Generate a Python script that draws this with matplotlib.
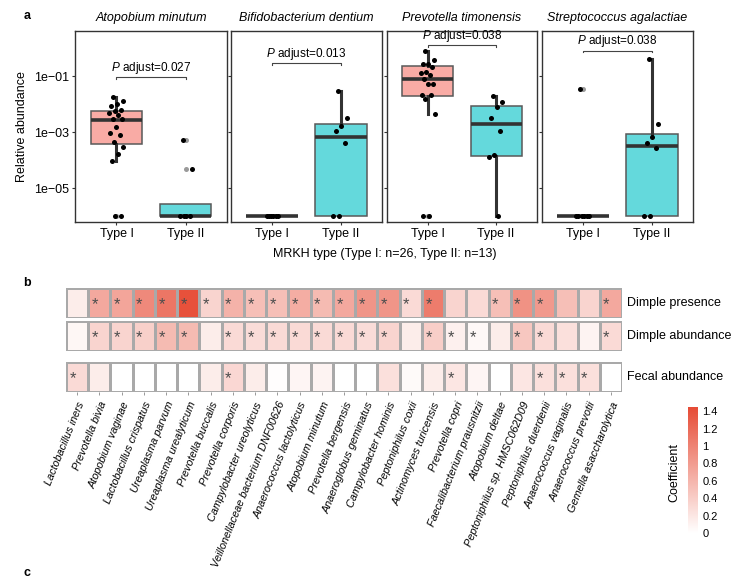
import numpy as np
import matplotlib
matplotlib.use("Agg")
import matplotlib.pyplot as plt
from matplotlib.colors import LinearSegmentedColormap

plt.rcParams["font.family"] = ["Liberation Sans", "DejaVu Sans"]
plt.rcParams["mathtext.fontset"] = "custom"
plt.rcParams["mathtext.rm"] = "Liberation Sans"
plt.rcParams["mathtext.it"] = "Liberation Sans:italic"

# ---------------- panel a data (relative abundance, zeros shown at 1e-6) ----------------
species_a = ["Atopobium minutum", "Bifidobacterium dentium",
             "Prevotella timonensis", "Streptococcus agalactiae"]
groups = ["Type I", "Type II"]
p_adjust = ["0.027", "0.013", "0.038", "0.038"]

am_type1 = [0.018, 0.013, 0.010, 0.0087, 0.0062, 0.0058, 0.0049, 0.0041, 0.0030,
            0.0029, 0.0015, 0.00095, 0.00081, 0.00044, 0.0003, 0.00016, 9.1e-5,
            1e-6, 1e-6]
am_type2 = [5.0e-4, 4.7e-5, 1e-6, 1e-6, 1e-6, 1e-6]
bd_type1 = [1e-6, 1e-6, 1e-6, 1e-6, 1e-6, 1e-6]
bd_type2 = [3.0e-2, 3.2e-3, 1.7e-3, 1.1e-3, 4.0e-4, 1e-6, 1e-6]
pt_type1 = [0.79, 0.37, 0.27, 0.27, 0.21, 0.14, 0.126, 0.105, 0.076, 0.051, 0.051,
            0.021, 0.021, 0.0155, 0.0043, 1e-6, 1e-6]
pt_type2 = [0.0186, 0.012, 0.0078, 0.0032, 0.0011, 1.5e-4, 1.3e-4, 1e-6]
sa_type1 = [0.035, 1e-6, 1e-6, 1e-6, 1e-6, 1e-6, 1e-6]
sa_type2 = [0.40, 1.9e-3, 6.5e-4, 4.0e-4, 2.7e-4, 1e-6, 1e-6]

# box stats: (whisker low, q1, median, q3, whisker high)
am_box = [(9.1e-5, 3.6e-4, 2.7e-3, 5.8e-3, 1.8e-2), (1e-6, 1e-6, 1e-6, 2.6e-6, 2.6e-6)]
bd_box = [(1e-6, 1e-6, 1e-6, 1e-6, 1e-6), (1e-6, 1e-6, 6.6e-4, 1.95e-3, 3.0e-2)]
pt_box = [(4.3e-3, 2.0e-2, 7.6e-2, 0.23, 0.79), (1e-6, 1.4e-4, 1.9e-3, 8.5e-3, 1.95e-2)]
sa_box = [(1e-6, 1e-6, 1e-6, 1e-6, 1e-6), (1e-6, 1e-6, 3.2e-4, 8.3e-4, 0.40)]

points_a = [(am_type1, am_type2), (bd_type1, bd_type2),
            (pt_type1, pt_type2), (sa_type1, sa_type2)]
boxes_a = [am_box, bd_box, pt_box, sa_box]

# ---------------- panel b data ----------------
taxa_b = ["Lactobacillus iners", "Prevotella bivia", "Atopobium vaginae",
          "Lactobacillus crispatus", "Ureaplasma parvum", "Ureaplasma urealyticum",
          "Prevotella buccalis", "Prevotella corporis", "Campylobacter ureolyticus",
          "Veillonellaceae bacterium DNF00626", "Anaerococcus lactolyticus",
          "Atopobium minutum", "Prevotella bergensis", "Anaeroglobus geminatus",
          "Campylobacter hominis", "Peptoniphilus coxii", "Actinomyces turicensis",
          "Prevotella copri", "Faecalibacterium prausnitzii", "Atopobium deltae",
          "Peptoniphilus sp. HMSC062D09", "Peptoniphilus duerdenii",
          "Anaerococcus vaginalis", "Anaerococcus prevotii", "Gemella asaccharolytica"]
rows_b = ["Dimple presence", "Dimple abundance", "Fecal abundance"]

coef_presence = [0.15, 0.70, 0.72, 0.95, 1.10, 1.40, 0.35, 0.62, 0.52, 0.52, 0.66,
                 0.55, 0.70, 0.85, 0.85, 0.30, 1.05, 0.35, 0.30, 0.52, 0.88, 0.82,
                 0.52, 0.35, 0.70]
coef_abundance = [0.07, 0.35, 0.35, 0.38, 0.55, 0.55, 0.15, 0.30, 0.28, 0.30, 0.30,
                  0.30, 0.30, 0.28, 0.35, 0.15, 0.40, 0.12, 0.06, 0.15, 0.45, 0.30,
                  0.25, 0.10, 0.30]
coef_fecal = [0.30, 0.15, 0.0, 0.0, 0.0, 0.0, 0.15, 0.32, 0.15, 0.02, 0.08, 0.10,
              0.0, 0.0, 0.25, 0.04, 0.15, 0.20, 0.08, 0.0, 0.20, 0.25, 0.25, 0.25, 0.0]
sig_presence = [0, 1, 1, 1, 1, 1, 1, 1, 1, 1, 1, 1, 1, 1, 1, 1, 1, 0, 0, 1, 1, 1, 0, 0, 1]
sig_abundance = [0, 1, 1, 1, 1, 1, 0, 1, 1, 1, 1, 1, 1, 1, 1, 0, 1, 1, 1, 0, 1, 1, 0, 0, 1]
sig_fecal = [1, 0, 0, 0, 0, 0, 0, 1, 0, 0, 0, 0, 0, 0, 0, 0, 0, 1, 0, 0, 0, 1, 1, 1, 0]

coef_rows = [coef_presence, coef_abundance, coef_fecal]
sig_rows = [sig_presence, sig_abundance, sig_fecal]

# ---------------- figure ----------------
W, H = 740, 579
fig = plt.figure(figsize=(W / 100, H / 100), dpi=100)


def px_axes(x0, y0, x1, y1):
    return fig.add_axes([x0 / W, 1 - y1 / H, (x1 - x0) / W, (y1 - y0) / H])


fill_colors = ["#F9ABA5", "#64D9DC"]
dark = "#333333"
panel_x = [(75, 227), (231, 382), (387, 537), (542, 693)]
bracket_y = [0.091, 0.29, 1.26, 0.79]


def jitter(n, width=0.11):
    return ((np.arange(n) * 0.618034 + 0.3) % 1 - 0.5) * 2 * width


for i, (x0, x1) in enumerate(panel_x):
    ax = px_axes(x0, 31, x1, 222)
    ax.set_yscale("log")
    ax.set_ylim(10 ** -6.21, 10 ** 0.607)
    ax.set_xlim(0.4, 2.6)
    stats = []
    for g in range(2):
        lo, q1, med, q3, hi = boxes_a[i][g]
        stats.append(dict(whislo=lo, q1=q1, med=med, q3=q3, whishi=hi, fliers=[]))
    bp = ax.bxp(stats, positions=[1, 2], widths=0.75, patch_artist=True,
                showcaps=False, showfliers=False,
                boxprops=dict(edgecolor="#595959", linewidth=1.1),
                medianprops=dict(color=dark, linewidth=2.6, solid_capstyle="butt"),
                whiskerprops=dict(color=dark, linewidth=2.2))
    for patch, c in zip(bp["boxes"], fill_colors):
        patch.set_facecolor(c)
    for g in range(2):
        vals = np.array(points_a[i][g])
        lo, hi = boxes_a[i][g][0], boxes_a[i][g][4]
        out = vals[(vals < lo * 0.999) | (vals > hi * 1.001)]
        ax.scatter(np.full(len(out), g + 1.0), out, s=13, color="#9a9a9a",
                   zorder=3, linewidths=0)
        ax.scatter(g + 1 + jitter(len(vals)), vals, s=13, color="black",
                   zorder=4, linewidths=0)
    # significance bracket
    by = bracket_y[i]
    ax.plot([1, 1, 2, 2], [by * 0.88, by, by, by * 0.88], color="#444444", lw=0.8)
    ax.annotate(r"$\it{P}$ adjust=" + p_adjust[i], xy=(1.5, by), xytext=(0, 6.8),
                textcoords="offset points", ha="center", va="center", fontsize=8.5)
    ax.set_title(species_a[i], fontsize=9, style="italic", pad=7)
    ax.set_xticks([1, 2])
    ax.set_xticklabels(groups, fontsize=9)
    ax.set_yticks([1e-1, 1e-3, 1e-5])
    ax.minorticks_off()
    if i == 0:
        ax.set_yticklabels(["1e\u221201", "1e\u221203", "1e\u221205"], fontsize=9)
        ax.set_ylabel("Relative abundance", fontsize=9, labelpad=4)
    else:
        ax.set_yticklabels([])
        ax.tick_params(axis="y", length=0)
    ax.tick_params(length=2.5, width=0.8, color=dark, pad=2)
    for s in ax.spines.values():
        s.set_color(dark)
        s.set_linewidth(1.0)

fig.text(385 / W, 1 - 254 / H, "MRKH type (Type I: n=26, Type II: n=13)",
         ha="center", va="center", fontsize=9)

# ---------------- panel b heatmap ----------------
cmap = LinearSegmentedColormap.from_list("wr", ["#FFFFFF", "#E64B35"])
vmax = 1.45
row_px = [(288, 318), (321, 351), (362, 392)]
n = len(taxa_b)
for r, (y0, y1) in enumerate(row_px):
    ax = px_axes(66, y0, 622, y1)
    ax.pcolormesh(np.arange(n + 1), [0, 1], np.array([coef_rows[r]]), cmap=cmap,
                  vmin=0, vmax=vmax, edgecolors="#A9A9A9", linewidth=1.0)
    ax.set_xlim(0, n)
    ax.set_ylim(1, 0)
    for s in ax.spines.values():
        s.set_visible(False)
    ax.set_yticks([])
    for c in range(n):
        if sig_rows[r][c]:
            ax.text(c + 0.3, 0.56, "*", ha="center", va="center", fontsize=12,
                    color="#4d4d4d")
    fig.text(627 / W, 1 - (y0 + y1) / 2 / H, rows_b[r], ha="left", va="center",
             fontsize=9)
    if r == 2:
        ax.set_xticks(np.arange(n) + 0.5)
        ax.set_xticklabels(taxa_b, rotation=68, ha="right", va="top",
                           rotation_mode="anchor", fontsize=7.8, style="italic")
        ax.tick_params(axis="x", length=2, width=0.6, color="#888888", pad=4)
    else:
        ax.set_xticks([])

cax = px_axes(688, 407, 698, 533)
sm = plt.cm.ScalarMappable(cmap=cmap, norm=plt.Normalize(0, vmax))
cb = fig.colorbar(sm, cax=cax)
cb.outline.set_visible(False)
cb.set_ticks([0, 0.2, 0.4, 0.6, 0.8, 1.0, 1.2, 1.4])
cb.set_ticklabels(["0", "0.2", "0.4", "0.6", "0.8", "1", "1.2", "1.4"])
cb.ax.tick_params(length=0, labelsize=8, pad=3)
fig.text(674 / W, 1 - 472 / H, "Coefficient", rotation=90, ha="center",
         va="center", fontsize=9)

for lab, (x, y) in zip(["a", "b", "c"], [(27, 16), (27, 283), (27, 573)]):
    fig.text(x / W, 1 - y / H, lab, fontsize=9, fontweight="bold",
             ha="center", va="center")

fig.savefig("out.png", dpi=100)
